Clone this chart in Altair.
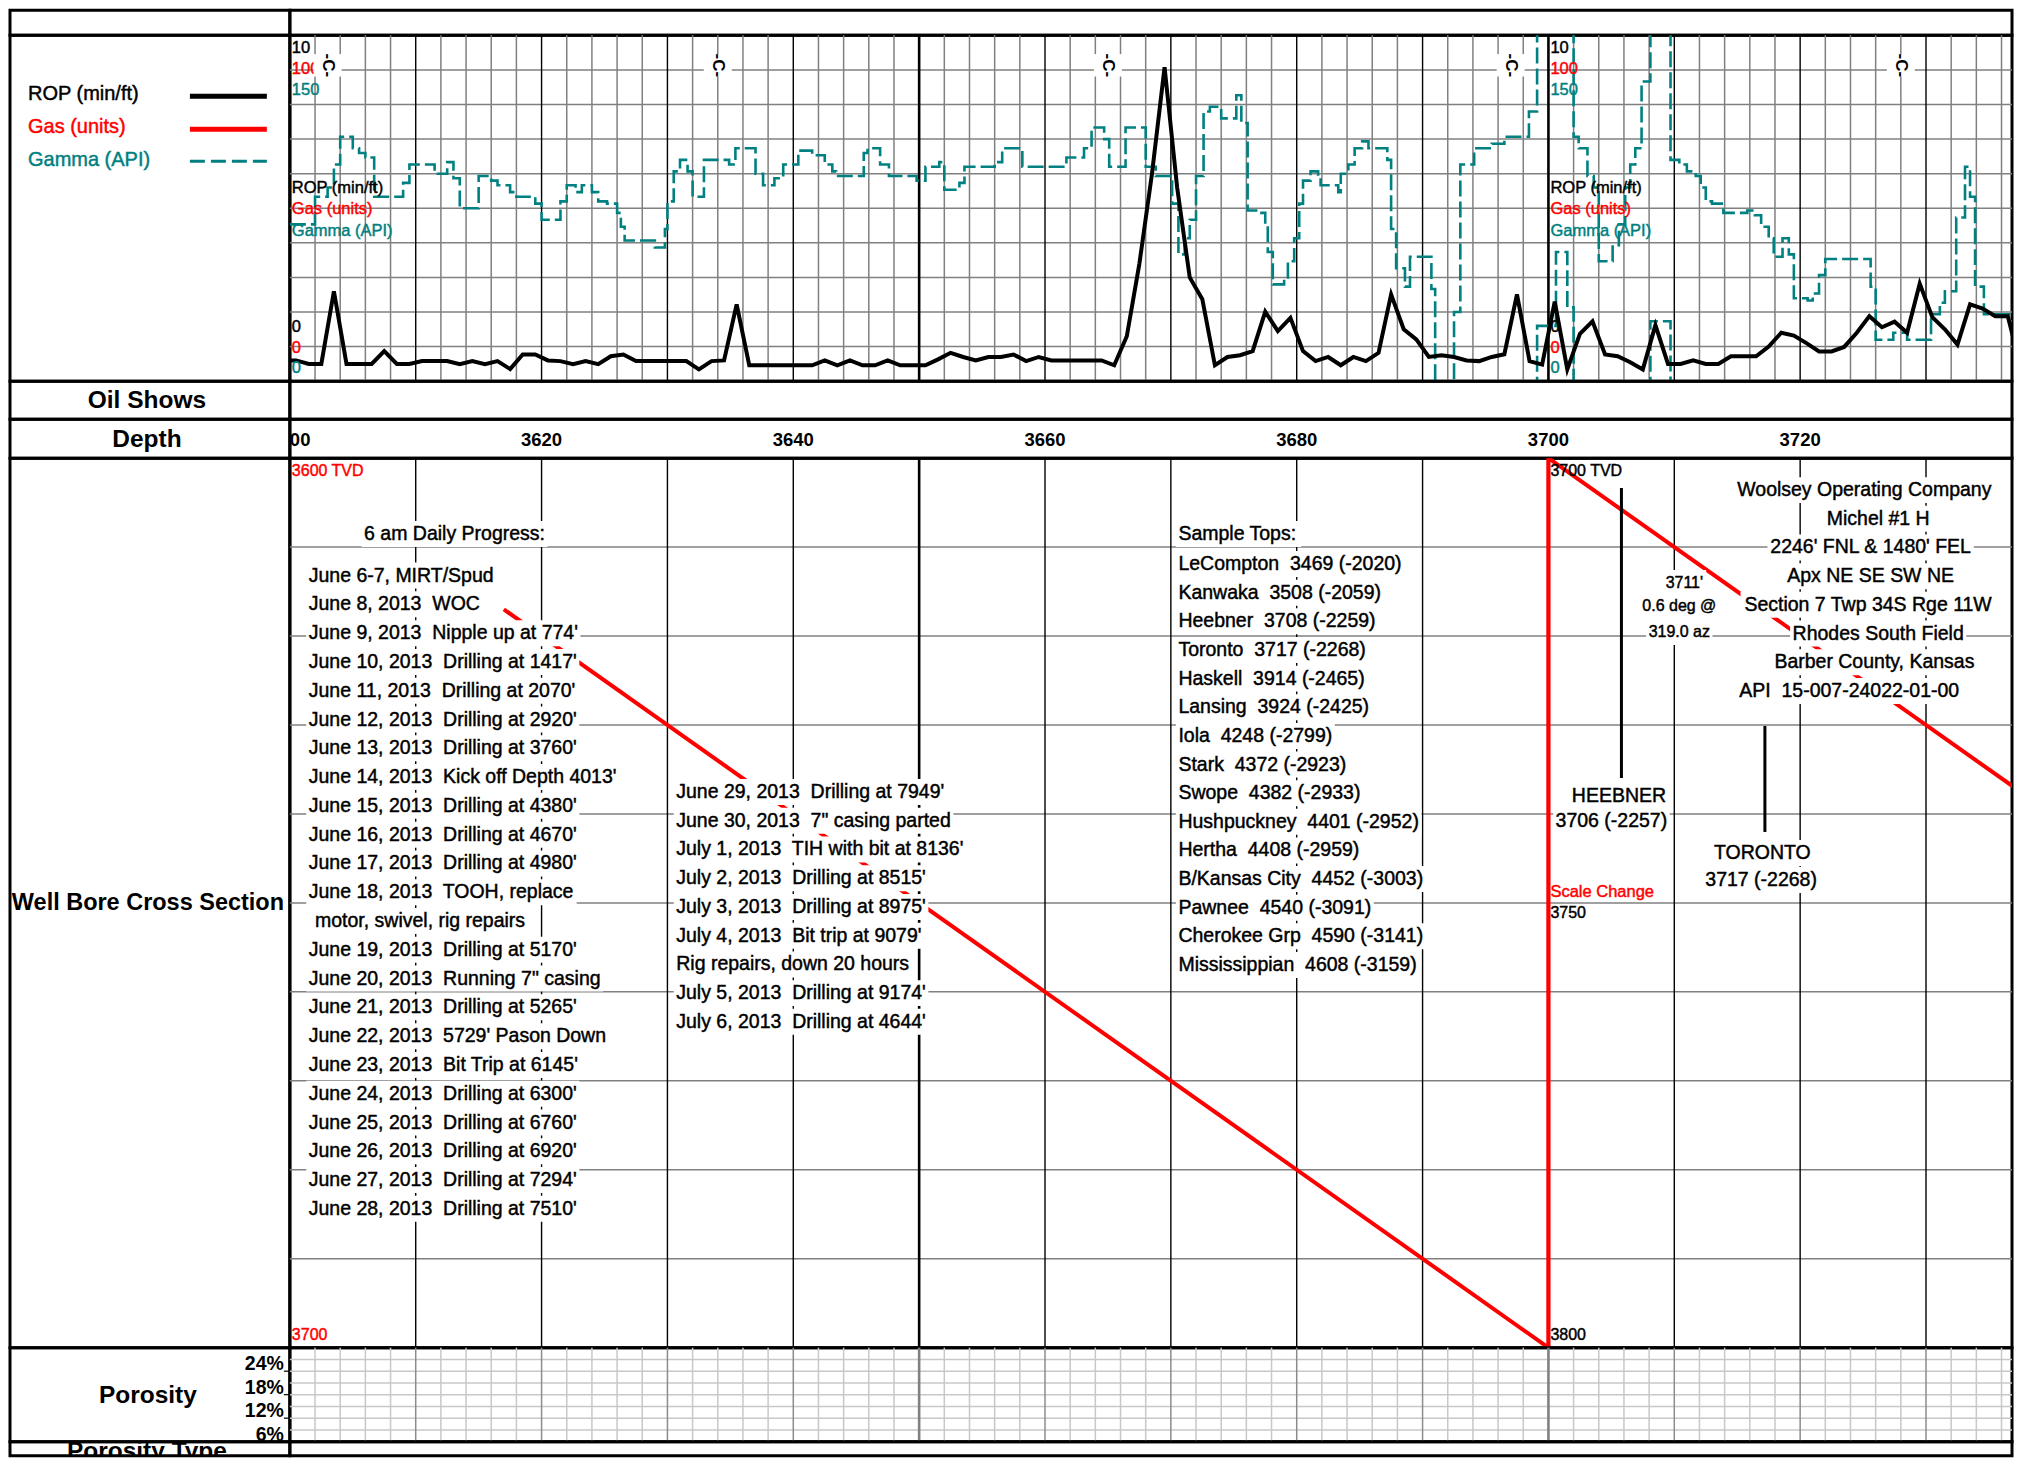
import altair as alt
import numpy as np
import pandas as pd

FONT = "'Liberation Sans', Arial, sans-serif"
TEAL = "#008080"
RED = "#ff0000"
GRID = "#808080"
LIGHT = "#c8c8c8"

PX_FT = 12.592
LEFT_W, RIGHT_W = 280, 1723
D0 = 3600.0
D1 = D0 + RIGHT_W / PX_FT
H_HEAD, H_LOG, H_OIL, H_DEPTH, H_WELL, H_POR, H_PTYPE = 25, 346, 38, 39, 890, 94, 14

ANN = 19.5      # annotation text
BOLD_L = 24.5   # left column titles
TRK = 16.5      # track scale labels
HEAVY = 0.45    # slight stroke to thicken regular text

# ---------------- data ----------------
rop_depth = [3600.0] + [3600.5 + k for k in range(138)]
rop_val = [0.60,
           0.60, 0.50, 0.50, 2.60, 0.50, 0.50, 0.50, 0.87, 0.50, 0.50,
           0.58, 0.58, 0.58, 0.49, 0.58, 0.49, 0.58, 0.35, 0.77, 0.77,
           0.60, 0.58, 0.49, 0.58, 0.49, 0.72, 0.77, 0.58, 0.58, 0.58,
           0.58, 0.58, 0.34, 0.58, 0.60, 2.22, 0.46, 0.46, 0.46, 0.46,
           0.46, 0.46, 0.60, 0.46, 0.60, 0.46, 0.46, 0.60, 0.46, 0.46,
           0.46, 0.63, 0.82, 0.70, 0.60, 0.70, 0.70, 0.77, 0.58, 0.70,
           0.60, 0.60, 0.60, 0.60, 0.60, 0.46, 1.30, 3.40, 6.00, 9.08,
           5.60, 3.00, 2.37, 0.46, 0.70, 0.75, 0.87, 2.01, 1.45, 1.83,
           0.87, 0.58, 0.70, 0.46, 0.70, 0.58, 0.82, 2.51, 1.50, 1.21,
           0.70, 0.75, 0.70, 0.60, 0.58, 0.70, 0.78, 2.51, 0.58, 0.48,
           2.30, 0.34, 1.37, 1.73, 0.77, 0.72, 0.55, 0.34, 1.62, 0.50,
           0.50, 0.60, 0.50, 0.50, 0.72, 0.72, 0.72, 1.00, 1.40, 1.32,
           1.10, 0.86, 0.86, 0.99, 1.40, 1.88, 1.56, 1.72, 1.40, 2.82,
           1.85, 1.50, 1.06, 2.22, 2.10, 1.88, 1.88, 0.43]

gamma_depth = [3600.0, 3602.0, 3603.0, 3603.5, 3604.0, 3605.0, 3605.5, 3606.0, 3606.7, 3609.0,
               3609.5, 3611.5, 3612.5, 3613.0, 3613.5, 3615.0, 3616.0, 3616.5, 3617.5, 3618.0,
               3619.5, 3620.0, 3621.5, 3622.0, 3622.7, 3623.2, 3624.0, 3624.5, 3625.2, 3626.0,
               3626.3, 3626.6, 3629.0, 3629.8, 3630.0, 3630.5, 3631.0, 3631.6, 3632.0, 3632.9,
               3634.9, 3635.4, 3637.0, 3637.6, 3638.5, 3639.2, 3640.4, 3641.5, 3642.5, 3643.1,
               3643.4, 3645.6, 3645.9, 3646.9, 3647.6, 3649.8, 3650.5, 3651.6, 3652.0, 3653.2,
               3653.6, 3656.0, 3656.6, 3658.2, 3661.7, 3663.1, 3663.7, 3664.7, 3665.1, 3666.4,
               3668.0, 3668.8, 3670.1, 3670.6, 3671.1, 3671.5, 3672.0, 3672.6, 3673.1, 3674.0,
               3675.2, 3675.6, 3676.1, 3677.0, 3677.5, 3677.7, 3678.1, 3679.0, 3679.3, 3679.8,
               3680.2, 3680.5, 3681.1, 3681.7, 3681.9, 3683.3, 3683.5, 3684.1, 3684.6, 3685.2,
               3685.7, 3687.2, 3687.5, 3687.9, 3688.6, 3689.0, 3690.7, 3691.0, 3692.5, 3693.0,
               3694.1, 3695.5, 3696.5, 3698.45, 3699.1, 3700.6, 3701.5, 3702.0, 3702.4, 3703.1,
               3703.6, 3704.0, 3705.1, 3705.6, 3706.1, 3706.5, 3706.9, 3707.4, 3708.1, 3709.7,
               3710.4, 3711.0, 3711.7, 3712.1, 3712.5, 3713.0, 3713.9, 3715.8, 3716.4, 3716.9,
               3717.5, 3717.9, 3718.6, 3719.1, 3719.5, 3720.6, 3721.0, 3721.5, 3722.0, 3725.6,
               3726.0, 3727.4, 3728.5, 3730.4, 3731.1, 3731.5, 3732.4, 3733.1, 3733.5, 3733.9,
               3734.6, 3736.6, 3737.3]
gamma_api = [68, 80, 84, 94, 106, 101, 99, 97, 80, 86,
             94, 90, 95, 88, 75, 89, 87, 85, 82, 80,
             77, 70, 78, 85, 82, 85, 82, 78, 77, 73,
             67, 61, 58, 66, 78, 91, 96, 91, 80, 96,
             94, 101, 90, 85, 88, 94, 100, 98, 94, 91,
             89, 99, 101, 94, 89, 87, 93, 95, 83, 86,
             93, 95, 101, 93, 97, 101, 110, 105, 93, 110,
             93, 89, 77, 55, 62, 70, 89, 117, 119, 114,
             124, 112, 74, 73, 68, 56, 42, 45, 52, 62,
             77, 87, 91, 88, 85, 82, 90, 94, 101, 104,
             101, 96, 66, 49, 41, 54, 40, -10, 30, 94,
             101, 103, 106, 117, 174, 206, 182, 106, 101, 89,
             84, 52, 59, 68, 84, 94, 101, 130, 176, 96,
             94, 91, 89, 84, 78, 77, 73, 74, 72, 67,
             62, 54, 62, 55, 36, 35, 38, 46, 53, 41,
             18, 21, 18, 29, 34, 39, 71, 93, 80, 41,
             29, 26, 80]

core_depth = [3603, 3634, 3665, 3697, 3728]
well_md = [3617.0, 3700.0, 3740.0]
well_tvd = [3617.0, 3700.0, 3740.0]
depth_ticks = [3600, 3620, 3640, 3660, 3680, 3700, 3720]

june_rows = ["June 6-7, MIRT/Spud", "June 8, 2013  WOC", "June 9, 2013  Nipple up at 774'",
             "June 10, 2013  Drilling at 1417'", "June 11, 2013  Drilling at 2070'",
             "June 12, 2013  Drilling at 2920'", "June 13, 2013  Drilling at 3760'",
             "June 14, 2013  Kick off Depth 4013'", "June 15, 2013  Drilling at 4380'",
             "June 16, 2013  Drilling at 4670'", "June 17, 2013  Drilling at 4980'",
             "June 18, 2013  TOOH, replace", "motor, swivel, rig repairs",
             "June 19, 2013  Drilling at 5170'", "June 20, 2013  Running 7\" casing",
             "June 21, 2013  Drilling at 5265'", "June 22, 2013  5729' Pason Down",
             "June 23, 2013  Bit Trip at 6145'", "June 24, 2013  Drilling at 6300'",
             "June 25, 2013  Drilling at 6760'", "June 26, 2013  Drilling at 6920'",
             "June 27, 2013  Drilling at 7294'", "June 28, 2013  Drilling at 7510'"]
july_rows = ["June 29, 2013  Drilling at 7949'", "June 30, 2013  7\" casing parted",
             "July 1, 2013  TIH with bit at 8136'", "July 2, 2013  Drilling at 8515'",
             "July 3, 2013  Drilling at 8975'", "July 4, 2013  Bit trip at 9079'",
             "Rig repairs, down 20 hours", "July 5, 2013  Drilling at 9174'",
             "July 6, 2013  Drilling at 4644'"]
tops_rows = ["Sample Tops:", "LeCompton  3469 (-2020)", "Kanwaka  3508 (-2059)", "Heebner  3708 (-2259)",
             "Toronto  3717 (-2268)", "Haskell  3914 (-2465)", "Lansing  3924 (-2425)",
             "Iola  4248 (-2799)", "Stark  4372 (-2923)", "Swope  4382 (-2933)",
             "Hushpuckney  4401 (-2952)", "Hertha  4408 (-2959)", "B/Kansas City  4452 (-3003)",
             "Pawnee  4540 (-3091)", "Cherokee Grp  4590 (-3141)", "Mississippian  4608 (-3159)"]
info_rows = ["Woolsey Operating Company", "Michel #1 H", "2246' FNL & 1480' FEL", "Apx NE SE SW NE",
             "Section 7 Twp 34S Rge 11W", "Rhodes South Field", "Barber County, Kansas",
             "API  15-007-24022-01-00"]
survey_rows = ["3711'", "0.6 deg @", "319.0 az"]

# ---------------- helpers ----------------
_AW = {' ': .278, ',': .278, '.': .278, "'": .191, '"': .355, '(': .333, ')': .333, '-': .333,
       '/': .278, ':': .278, '@': 1.015, '&': .667, '#': .556, '%': .889,
       'a': .556, 'b': .556, 'c': .5, 'd': .556, 'e': .556, 'f': .278, 'g': .556, 'h': .556,
       'i': .222, 'j': .222, 'k': .5, 'l': .222, 'm': .833, 'n': .556, 'o': .556, 'p': .556,
       'q': .556, 'r': .333, 's': .5, 't': .278, 'u': .556, 'v': .5, 'w': .722, 'x': .5,
       'y': .5, 'z': .5, 'A': .667, 'B': .667, 'C': .722, 'D': .722, 'E': .667, 'F': .611,
       'G': .778, 'H': .722, 'I': .278, 'J': .5, 'K': .667, 'L': .556, 'M': .833, 'N': .722,
       'O': .778, 'P': .667, 'Q': .778, 'R': .722, 'S': .667, 'T': .611, 'U': .722, 'V': .667,
       'W': .944, 'X': .667, 'Y': .667, 'Z': .611}


def text_px(t, size):
    return sum(_AW.get(c, .556) for c in t) * size


def fix(t):
    return t.replace("  ", "\u00a0 ")


def XD(field="d"):
    return alt.X(f"{field}:Q", scale=alt.Scale(domain=[D0, D1], nice=False, zero=False), axis=None)


def YP(field, H):
    return alt.Y(f"{field}:Q", scale=alt.Scale(domain=[0, H], range=[0, H], nice=False, zero=False), axis=None)


def YV(field, dom, H):
    return alt.Y(f"{field}:Q", scale=alt.Scale(domain=dom, range=[H, 0], nice=False, zero=False), axis=None)


def LX():
    return alt.X("x:Q", scale=alt.Scale(domain=[0, LEFT_W], nice=False, zero=False), axis=None)


def empty(W, H):
    return alt.Chart(pd.DataFrame({"a": [0]})).mark_rule(opacity=0).encode(
        x=alt.value(0), x2=alt.value(1), y=alt.value(0)).properties(width=W, height=H)


def left_label(H, items):
    layers = []
    for t, x, y, size, weight, align, color, base in items:
        extra = {} if weight == "bold" else {"stroke": color, "strokeWidth": HEAVY}
        layers.append(alt.Chart(pd.DataFrame({"x": [x], "y": [y], "t": [t]})).mark_text(
            font=FONT, fontSize=size, fontWeight=weight, align=align, baseline=base, color=color,
            clip=True, **extra
        ).encode(x=LX(), y=YP("y", H), text="t:N"))
    return layers


def vgrid_df(step_minor=True):
    rows = []
    for d in np.arange(D0 + 2, D1, 2.0):
        if d % 50 == 0:
            rows.append((d, "black", 2.6))
        elif d % 10 == 0:
            rows.append((d, "black", 1.4))
        elif step_minor:
            rows.append((d, GRID, 1.5))
    return pd.DataFrame(rows, columns=["d", "c", "w"])


def vrules(df, H):
    return alt.Chart(df).mark_rule().encode(
        x=XD(), y=alt.value(0), y2=alt.value(H),
        color=alt.Color("c:N", scale=None), strokeWidth=alt.StrokeWidth("w:Q", scale=None))


def ann_layers(anns, H):
    bg = []
    for a in anns:
        if not a["bg"]:
            continue
        w = text_px(a["t"], a["size"]) / PX_FT
        pad = 2.5 / PX_FT
        if a["align"] == "left":
            x0, x1 = a["d"] - pad, a["d"] + w + pad
        else:
            x0, x1 = a["d"] - w / 2 - pad, a["d"] + w / 2 + pad
        bg.append({"x0": x0, "x1": x1, "y0": a["y"] - 13, "y1": a["y"] + 13})
    layers = []
    if bg:
        layers.append(alt.Chart(pd.DataFrame(bg)).mark_rect(color="white").encode(
            x=XD("x0"), x2="x1:Q", y=YP("y0", H), y2="y1:Q"))
    df = pd.DataFrame(anns)
    df["tt"] = df["t"].map(fix)
    for key, g in df.groupby(["align", "size", "weight", "color"]):
        align, size, weight, color = key
        layers.append(alt.Chart(g[["d", "y", "tt"]]).mark_text(
            font=FONT, fontSize=float(size), fontWeight=weight, align=align, baseline="middle",
            color=color, stroke=color, strokeWidth=HEAVY, clip=True
        ).encode(x=XD(), y=YP("y", H), text="tt:N"))
    return layers


def A(t, d, y, align="left", size=ANN, weight="normal", color="black", bg=True):
    return dict(t=t, d=d, y=y, align=align, size=size, weight=weight, color=color, bg=bg)


cells = []

# ---------------- header row ----------------
cells += [empty(LEFT_W, H_HEAD), empty(RIGHT_W, H_HEAD)]

# ---------------- log track ----------------
H = H_LOG
hgrid = pd.DataFrame({"v": [1, 2, 3, 4, 5, 6, 7, 8, 9]})
log_layers = [
    alt.Chart(hgrid).mark_rule(color=GRID, strokeWidth=1.5).encode(
        y=YV("v", [0, 10], H), x=alt.value(0), x2=alt.value(RIGHT_W)),
    vrules(vgrid_df(), H),
]
gdf = pd.DataFrame({"d": gamma_depth, "g": gamma_api})
log_layers.append(alt.Chart(gdf).mark_line(
    interpolate="step-after", color=TEAL, strokeWidth=2.6, strokeDash=[16, 5], clip=True
).encode(x=XD(), y=YV("g", [0, 150], H)))
# wrapped (backup) gamma where values exceed the 150 API track maximum
wr = []
i, n, seg = 0, len(gamma_depth), 0
while i < n:
    if gamma_api[i] > 150:
        j = i
        while j < n and gamma_api[j] > 150:
            j += 1
        end = gamma_depth[j] if j < n else D1
        pts = [(gamma_depth[i], -5)]
        for k in range(i, j):
            nxt = gamma_depth[k + 1] if k + 1 < n else D1
            pts += [(gamma_depth[k], gamma_api[k] - 150), (nxt, gamma_api[k] - 150)]
        pts.append((end, -5))
        for o, (d, g) in enumerate(pts):
            wr.append({"d": d, "g": g, "o": o, "s": seg})
        seg += 1
        i = j
    else:
        i += 1
log_layers.append(alt.Chart(pd.DataFrame(wr)).mark_line(
    color=TEAL, strokeWidth=2.6, strokeDash=[16, 5], clip=True
).encode(x=XD(), y=YV("g", [0, 150], H), order="o:Q", detail="s:N"))
rdf = pd.DataFrame({"d": rop_depth, "r": rop_val})
log_layers.append(alt.Chart(rdf).mark_line(color="black", strokeWidth=4, clip=True).encode(
    x=XD(), y=YV("r", [0, 10], H)))
lab = []
for d0 in (3600, 3700):
    dd = d0 + 2 / PX_FT
    for t, y, c in [("10", 13, "black"), ("100", 34, RED), ("150", 55, TEAL),
                    ("ROP (min/ft)", 153, "black"), ("Gas (units)", 174, RED), ("Gamma (API)", 196, TEAL),
                    ("0", 292, "black"), ("0", 313, RED), ("0", 333, TEAL)]:
        lab.append(A(t, dd, y, size=TRK, color=c, bg=False))
log_layers += ann_layers(lab, H)
cdf = pd.DataFrame({"d": core_depth, "y": [30] * len(core_depth), "t": ["-C-"] * len(core_depth)})
log_layers.append(alt.Chart(cdf).mark_point(
    shape="M-1,-0.8H1V0.8H-1Z", size=784, filled=True, color="white", opacity=1, strokeWidth=0
).encode(x=XD(), y=YP("y", H)))
log_layers.append(alt.Chart(cdf).mark_text(
    font=FONT, fontSize=17, fontWeight="bold", angle=90, align="center", baseline="middle", color="black"
).encode(x=XD(), y=YP("y", H), text="t:N"))
log_right = alt.layer(*log_layers).resolve_scale(y="independent").properties(width=RIGHT_W, height=H)

leg = left_label(H, [("ROP (min/ft)", 18, 59, 20, "normal", "left", "black", "middle"),
                     ("Gas (units)", 18, 92, 20, "normal", "left", RED, "middle"),
                     ("Gamma (API)", 18, 125, 20, "normal", "left", TEAL, "middle")])
one = pd.DataFrame({"a": [0]})
leg += [
    alt.Chart(one).mark_rule(color="black", strokeWidth=5).encode(
        x=alt.value(180), x2=alt.value(257), y=alt.value(61)),
    alt.Chart(one).mark_rule(color=RED, strokeWidth=5).encode(
        x=alt.value(180), x2=alt.value(257), y=alt.value(94)),
    alt.Chart(one).mark_rule(color=TEAL, strokeWidth=3, strokeDash=[15, 6]).encode(
        x=alt.value(180), x2=alt.value(257), y=alt.value(126)),
]
cells += [alt.layer(*leg).properties(width=LEFT_W, height=H), log_right]

# ---------------- oil shows ----------------
cells += [alt.layer(*left_label(H_OIL, [("Oil Shows", 137, 20, BOLD_L, "bold", "center", "black", "middle")])
                    ).properties(width=LEFT_W, height=H_OIL),
          empty(RIGHT_W, H_OIL)]

# ---------------- depth ----------------
ddf = pd.DataFrame({"d": depth_ticks, "y": [21] * len(depth_ticks), "t": [str(v) for v in depth_ticks]})
cells += [alt.layer(*left_label(H_DEPTH, [("Depth", 137, 21, BOLD_L, "bold", "center", "black", "middle")])
                    ).properties(width=LEFT_W, height=H_DEPTH),
          alt.Chart(ddf).mark_text(font=FONT, fontSize=18.5, fontWeight="bold", align="center",
                                   baseline="middle", clip=True
                                   ).encode(x=XD(), y=YP("y", H_DEPTH), text="t:N"
                                            ).properties(width=RIGHT_W, height=H_DEPTH)]

# ---------------- well bore ----------------
H = H_WELL
wl = [
    alt.Chart(pd.DataFrame({"v": [10, 20, 30, 40, 50, 60, 70, 80, 90]})).mark_rule(
        color=GRID, strokeWidth=1.5).encode(
        y=alt.Y("v:Q", scale=alt.Scale(domain=[0, 100], range=[0, H], nice=False, zero=False), axis=None),
        x=alt.value(0), x2=alt.value(RIGHT_W)),
    vrules(vgrid_df(step_minor=False), H),
]
path = []
for md, tvd in zip(well_md, well_tvd):
    if md < 3700:
        path.append((md, tvd - 3600))
    elif md == 3700:
        path.append((md, tvd - 3600))
        path.append((md, tvd - 3700))
    else:
        path.append((md, tvd - 3700))
pdf = pd.DataFrame({"d": [p[0] for p in path], "v": [p[1] for p in path], "o": range(len(path))})
wl.append(alt.Chart(pdf).mark_line(color=RED, strokeWidth=4, clip=True).encode(
    x=XD(), y=alt.Y("v:Q", scale=alt.Scale(domain=[0, 100], range=[0, H], nice=False, zero=False), axis=None),
    order="o:Q"))
wl.append(alt.Chart(pd.DataFrame({"d": [3700.0]})).mark_rule(color=RED, strokeWidth=3.5).encode(
    x=XD(), y=alt.value(0), y2=alt.value(H)))
mdf = pd.DataFrame({"d": [3705.8, 3717.2], "y0": [30, 268], "y1": [320, 374]})
wl.append(alt.Chart(mdf).mark_rule(color="black", strokeWidth=3).encode(
    x=XD(), y=YP("y0", H), y2="y1:Q"))

anns = [A("6 am Daily Progress:", 3605.9, 76)]
for k, t in enumerate(june_rows):
    anns.append(A(t, 3602.0 if k == 12 else 3601.5, 117.5 + 28.8 * k))
for k, t in enumerate(july_rows):
    anns.append(A(t, 3630.7, 334 + 28.75 * k))
for k, t in enumerate(tops_rows):
    anns.append(A(t, 3670.6, 76 if k == 0 else 106 + 28.65 * (k - 1)))
info_x = [3725.1, 3726.2, 3725.6, 3725.6, 3725.4, 3726.2, 3725.9, 3723.9]
for k, t in enumerate(info_rows):
    anns.append(A(t, info_x[k], 32 + 28.7 * k, align="center"))
for t, d, y in zip(survey_rows, [3710.8, 3710.4, 3710.4], [125, 148, 174]):
    anns.append(A(t, d, y, align="center", size=16))
anns += [A("HEEBNER", 3705.6, 338, align="center"), A("3706 (-2257)", 3705.0, 363, align="center"),
         A("TORONTO", 3717.0, 395, align="center"), A("3717 (-2268)", 3716.9, 422, align="center")]
dx = 2 / PX_FT
anns += [A("3600 TVD", 3600 + dx, 13, size=16, color=RED, bg=False),
         A("3700", 3600 + dx, 877, size=16, color=RED, bg=False),
         A("3700 TVD", 3700 + dx, 13, size=16, bg=False),
         A("Scale Change", 3700 + dx, 434, size=16.5, color=RED, bg=False),
         A("3750", 3700 + dx, 455, size=16, bg=False),
         A("3800", 3700 + dx, 877, size=16, bg=False)]
wl += ann_layers(anns, H)
cells += [alt.layer(*left_label(H, [("Well Bore Cross Section", 138, 445, 23.5, "bold", "center", "black", "middle")])
                    ).properties(width=LEFT_W, height=H),
          alt.layer(*wl).resolve_scale(y="independent").properties(width=RIGHT_W, height=H)]

# ---------------- porosity ----------------
H = H_POR
pg = []
for d in np.arange(D0 + 2, D1, 2.0):
    if d % 50 == 0:
        pg.append((d, "#808080", 2.6))
    elif d % 10 == 0:
        pg.append((d, "#8c8c8c", 1.5))
    else:
        pg.append((d, LIGHT, 1.5))
por_right = alt.layer(
    alt.Chart(pd.DataFrame({"p": [9, 12, 15, 18, 21, 24, 27]})).mark_rule(color=LIGHT, strokeWidth=1.5).encode(
        y=YV("p", [6, 30], H), x=alt.value(0), x2=alt.value(RIGHT_W)),
    vrules(pd.DataFrame(pg, columns=["d", "c", "w"]), H),
).properties(width=RIGHT_W, height=H)
pct = pd.DataFrame({"p": [24, 18, 12, 6], "x": [274] * 4, "t": ["24%", "18%", "12%", "6%"]})
por_left = alt.layer(
    *left_label(H, [("Porosity", 138, 48, BOLD_L, "bold", "center", "black", "middle")]),
    alt.Chart(pct).mark_text(font=FONT, fontSize=19.5, fontWeight="bold", align="right",
                             baseline="alphabetic", dy=-1).encode(
        x=LX(), y=YV("p", [6, 30], H), text="t:N"),
    alt.Chart(pct).mark_rule(color="black", strokeWidth=1.2).encode(
        x=alt.value(274), x2=alt.value(LEFT_W), y=YV("p", [6, 30], H)),
).resolve_scale(y="independent").properties(width=LEFT_W, height=H)
cells += [por_left, por_right]

# ---------------- porosity type ----------------
cells += [alt.layer(*left_label(H_PTYPE, [("Porosity Type", 137, 10, BOLD_L, "bold", "center", "black", "middle")])
                    ).properties(width=LEFT_W, height=H_PTYPE),
          empty(RIGHT_W, H_PTYPE)]

chart = alt.concat(*cells, columns=2, spacing=0, bounds="flush", align="each").resolve_scale(
    x="independent", y="independent"
).configure_view(stroke="black", strokeWidth=3).properties(padding=0)

chart.save("out.html", embed_options={"renderer": "svg", "actions": False})
